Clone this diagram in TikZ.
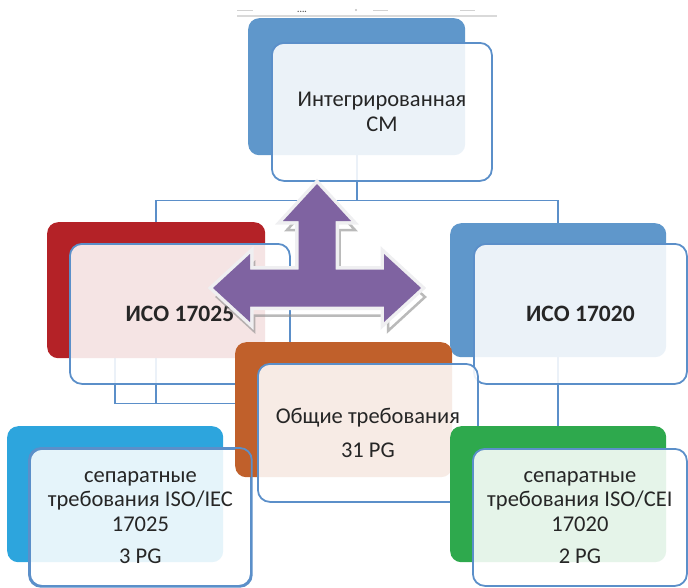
\documentclass[tikz,border=0pt]{standalone}
\usepackage{fontspec}
\setmainfont{Carlito}
\usetikzlibrary{backgrounds}
\definecolor{cBlue}{HTML}{5F97CB}
\definecolor{cRed}{HTML}{B42227}
\definecolor{cOrange}{HTML}{C0602B}
\definecolor{cCyan}{HTML}{2DA5DD}
\definecolor{cGreen}{HTML}{2EA94D}
\definecolor{cPurple}{HTML}{7F63A1}
\definecolor{edgec}{HTML}{5B8FC9}
\definecolor{txtc}{HTML}{262626}
\definecolor{glowc}{HTML}{EFEFF1}
\definecolor{shadec}{HTML}{8C8C8C}
\tikzset{
  backbox/.style={rounded corners=11pt, anchor=north west, inner sep=0pt, draw=none},
  frontbox/.style={draw=edgec, line width=1.8pt, fill=white, fill opacity=0.88, text opacity=1,
    rounded corners=12pt, anchor=north west, align=center, inner sep=0pt,
    font=\fontsize{22.5}{24.5}\selectfont, text=txtc},
  boldtext/.style={font=\fontsize{23.5}{25}\selectfont\bfseries},
  conn/.style={draw=edgec, line width=1.8pt},
  arrowshape/.style={insert path={(0,-104) -- (34,-67) -- (18.5,-67) -- (18.5,-18.5) -- (67,-18.5)
    -- (67,-34) -- (104,0) -- (67,34) -- (67,18.5) -- (-67,18.5) -- (-67,34) -- (-104,0)
    -- (-67,-34) -- (-67,-18.5) -- (-18.5,-18.5) -- (-18.5,-67) -- (-34,-67) -- cycle}},
}
\begin{document}
\begin{tikzpicture}[x=1pt, y=-1pt]
\useasboundingbox (0,0) rectangle (688,587);

% top strip
\draw[gray!30, line width=1.2pt] (237,16) -- (497,16);
\draw[gray!35, line width=0.8pt] (237,10)--(253,10) (373,10)--(388,10) (460,10)--(475,10);
\fill[gray!50] (356,10) circle (1.2);
\node[font=\fontsize{9}{9}\selectfont\bfseries, text=gray!70!black, inner sep=0pt] (dots) at (302,12) {....};

% top node
\node[backbox, fill=cBlue, minimum width=217pt, minimum height=137pt] (btop) at (248,18) {};
\node[frontbox, minimum width=220pt, minimum height=138pt] (ftop) at (271,42) {Интегрированная\\СМ};

% ISO 17025
\node[backbox, fill=cRed, minimum width=218pt, minimum height=136pt] (b17025) at (47,222) {};
\node[frontbox, boldtext, minimum width=220pt, minimum height=140pt] (f17025) at (69,243) {ИСО 17025};

% ISO 17020
\node[backbox, fill=cBlue, minimum width=216pt, minimum height=134pt] (b17020) at (450,223) {};
\node[frontbox, boldtext, minimum width=213pt, minimum height=140pt] (f17020) at (473,243) {ИСО 17020};

% three-way arrow: shadow
\begin{scope}[shift={(321,297)}]
\path[draw=shadec, draw opacity=0.6, line width=2.5pt, line join=miter, arrowshape];
\end{scope}
% main arrow: light rim, then purple body
\begin{scope}[shift={(317,288)}]
\path[draw=glowc, line width=7pt, line join=miter, arrowshape];
\path[fill=cPurple, arrowshape];
\end{scope}

% separate 17025
\node[backbox, fill=cCyan, minimum width=216pt, minimum height=136pt] (bsep1) at (7,426) {};
\node[frontbox, minimum width=221pt, minimum height=137pt] (fsep1) at (29,448)
  {сепаратные\\требования ISO/IEC\\17025\\[8pt]3 PG};

% general requirements
\node[backbox, fill=cOrange, minimum width=217pt, minimum height=135pt] (bobsh) at (235,342) {};
\node[frontbox, minimum width=220pt, minimum height=138pt] (fobsh) at (257,363)
  {Общие требования\\[10pt]31 PG};
\draw[edgec, line width=1.8pt, rounded corners=12pt] (fsep1.north west) rectangle (fsep1.south east);

% separate 17020
\node[backbox, fill=cGreen, minimum width=216pt, minimum height=136pt] (bsep2) at (450,426) {};
\node[frontbox, minimum width=214pt, minimum height=137pt] (fsep2) at (472,448)
  {сепаратные\\требования ISO/CEI\\17020\\[8pt]2 PG};

% connectors
\begin{scope}[on background layer]
\draw[conn] (btop.south) -- ++(0,45) coordinate (hub) -| (b17025.north);
\draw[conn] (hub) -| (b17020.north);
\draw[conn] (b17025.south) -- ++(0,45) coordinate (j1) -- (j1 -| bobsh.west);
\draw[conn] (b17025.south -| bsep1.north) |- (j1);
\draw[conn] (b17020.south) -- (bsep2.north);
\end{scope}
\end{tikzpicture}
\end{document}
